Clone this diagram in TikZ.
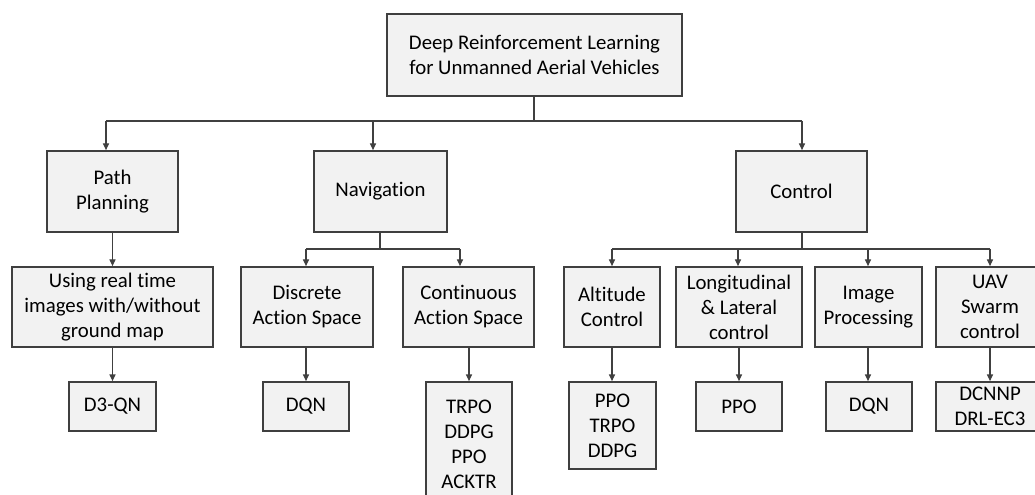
\documentclass[tikz,border=0pt]{standalone}
\usepackage{fontspec}
\setmainfont{Carlito}[Ligatures={NoCommon}]
\usetikzlibrary{arrows.meta}
\definecolor{boxfill}{HTML}{F2F2F2}
\definecolor{boxline}{HTML}{3F3F3F}
\definecolor{conline}{HTML}{404040}
\begin{document}
\begin{tikzpicture}[x=0.75pt,y=-0.75pt,
  box/.style={draw=boxline,fill=boxfill,line width=1.3pt,inner sep=0pt,
    align=center,font=\fontsize{15.6}{18.75}\selectfont,text=black},
  con/.style={draw=conline,line width=0.8pt},
  arr/.style={con,-{Triangle[length=5pt,width=4.5pt]}}]
\useasboundingbox (0,0) rectangle (1035,495);
\clip (0,0) rectangle (1035,495);
\fill[white] (0,0) rectangle (1035,495);
% level 0
\node[box,minimum width=295*0.75pt,minimum height=82*0.75pt] (root) at (534.5,55) {Deep Reinforcement Learning\\for Unmanned Aerial Vehicles};
% level 1
\node[box,minimum width=131*0.75pt,minimum height=81*0.75pt] (path) at (112.5,191.5) {Path\\Planning};
\node[box,minimum width=133*0.75pt,minimum height=81*0.75pt] (nav) at (380.5,191.5) {Navigation};
\node[box,minimum width=131*0.75pt,minimum height=81*0.75pt] (ctrl) at (801.5,191.5) {Control};
% level 2
\node[box,minimum width=201*0.75pt,minimum height=80*0.75pt] (using) at (112.5,307) {Using real time\\images with/without\\ground map};
\node[box,minimum width=132*0.75pt,minimum height=80*0.75pt] (disc) at (307,307) {Discrete\\Action Space};
\node[box,minimum width=131*0.75pt,minimum height=80*0.75pt] (cont) at (468.5,307) {Continuous\\Action Space};
\node[box,minimum width=96*0.75pt,minimum height=80*0.75pt] (alt) at (612,307) {Altitude\\Control};
\node[box,minimum width=126*0.75pt,minimum height=80*0.75pt] (lon) at (739,307) {Longitudinal\\\& Lateral\\control};
\node[box,minimum width=107*0.75pt,minimum height=80*0.75pt] (img) at (868.5,307) {Image\\Processing};
\node[box,minimum width=108*0.75pt,minimum height=80*0.75pt] (uav) at (990,307) {UAV\\Swarm\\control};
% level 3
\node[box,minimum width=87*0.75pt,minimum height=49*0.75pt] (d3) at (112.5,406.5) {D3-QN};
\node[box,minimum width=86*0.75pt,minimum height=49*0.75pt] (dqna) at (306,406.5) {DQN};
\node[box,minimum width=86*0.75pt,minimum height=124*0.75pt] (trpo) at (469,444) {TRPO\\DDPG\\PPO\\ACKTR};
\node[box,minimum width=87*0.75pt,minimum height=87*0.75pt] (ppoa) at (612.5,425.5) {PPO\\TRPO\\DDPG};
\node[box,minimum width=86*0.75pt,minimum height=49*0.75pt] (ppob) at (739,406.5) {PPO};
\node[box,minimum width=86*0.75pt,minimum height=49*0.75pt] (dqnb) at (869,406.5) {DQN};
\node[box,minimum width=108*0.75pt,minimum height=49*0.75pt] (dcnnp) at (990,406.5) {DCNNP\\DRL-EC3};
% bus coordinates
\coordinate (b0) at (534,121);
\coordinate (bp) at (106,121);
\coordinate (bn) at (373,121);
\coordinate (bc) at (802,121);
\coordinate (n0) at (380,249);
\coordinate (nd) at (306,249);
\coordinate (nc) at (460,249);
\coordinate (c0) at (802,249);
\coordinate (ca) at (612,249);
\coordinate (cl) at (738,249);
\coordinate (ci) at (868,249);
\coordinate (cu) at (990,249);
% root connectors
\draw[con] (root.south -| b0) -- (b0);
\draw[con] (bp) -- (bc);
\draw[arr] (bp) -- (bp |- path.north);
\draw[arr] (bn) -- (bn |- nav.north);
\draw[arr] (bc) -- (bc |- ctrl.north);
% path
\draw[arr] (path.south) -- (using.north);
% navigation
\draw[con] (nav.south -| n0) -- (n0);
\draw[con] (nd) -- (nc);
\draw[arr] (nd) -- (nd |- disc.north);
\draw[arr] (nc) -- (nc |- cont.north);
% control
\draw[con] (ctrl.south -| c0) -- (c0);
\draw[con] (ca) -- (cu);
\draw[arr] (ca) -- (ca |- alt.north);
\draw[arr] (cl) -- (cl |- lon.north);
\draw[arr] (ci) -- (ci |- img.north);
\draw[arr] (cu) -- (cu |- uav.north);
% level 2 to 3
\draw[arr] (using.south) -- (d3.north);
\draw[arr] (disc.south -| dqna.north) -- (dqna.north);
\draw[arr] (cont.south -| trpo.north) -- (trpo.north);
\draw[arr] (alt.south) -- (ppoa.north -| alt.south);
\draw[arr] (lon.south) -- (ppob.north);
\draw[arr] (img.south -| ci) -- (dqnb.north -| ci);
\draw[arr] (uav.south) -- (dcnnp.north);
\end{tikzpicture}
\end{document}
